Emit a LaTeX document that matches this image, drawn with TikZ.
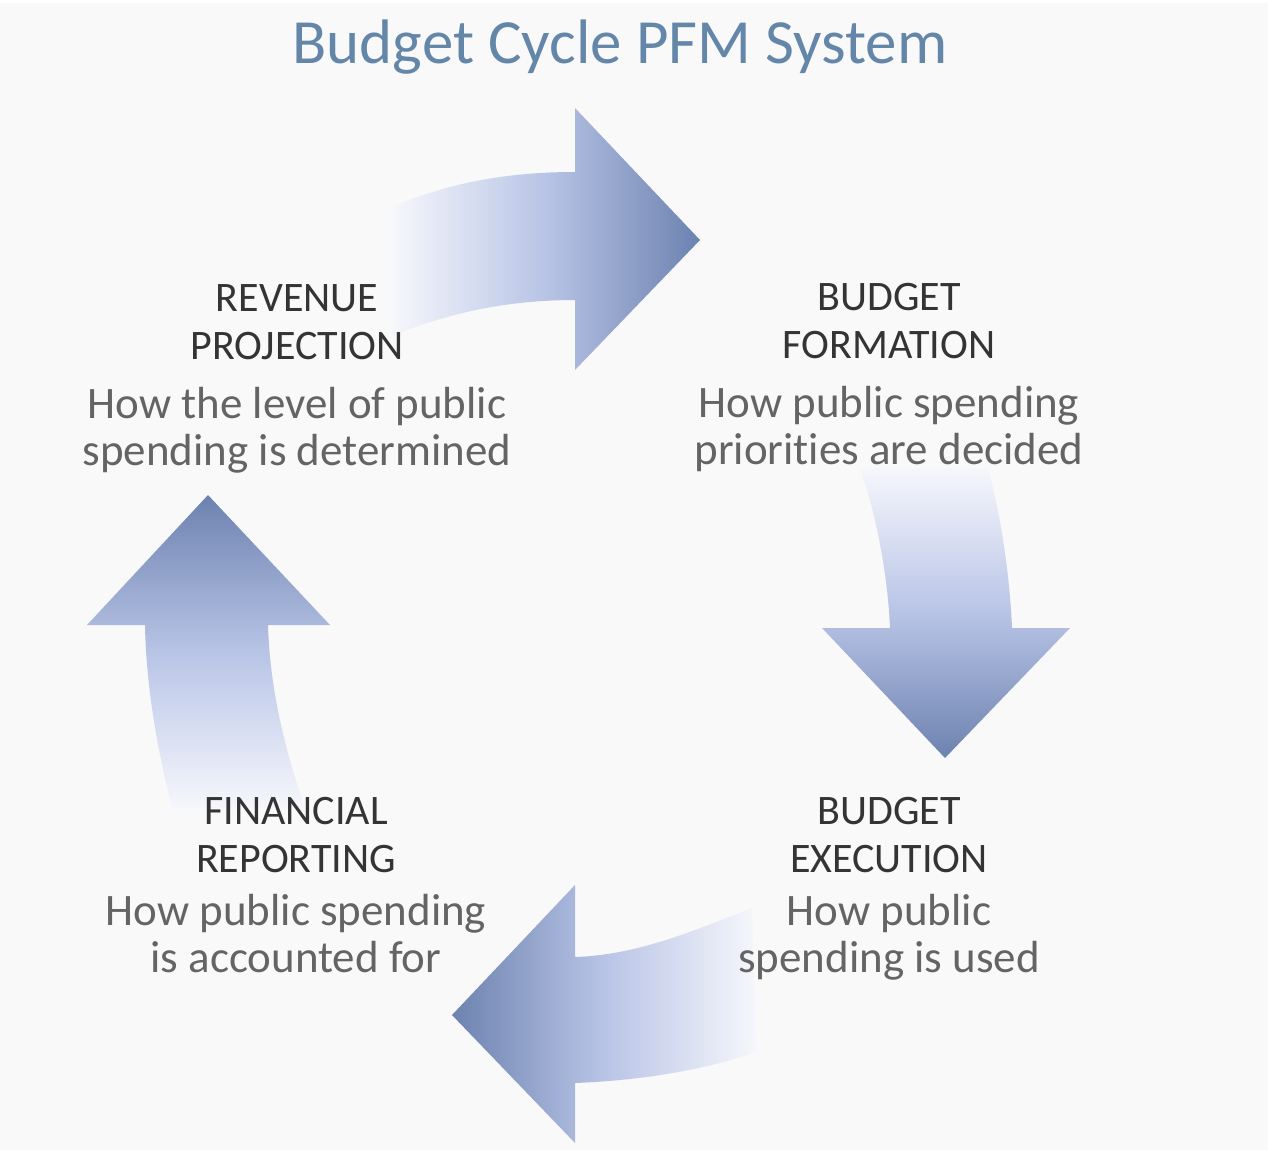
\documentclass[tikz,border=0pt]{standalone}
\usepackage{fontspec}
\setmainfont{Carlito}[Ligatures=NoCommon]
\usetikzlibrary{positioning}

\definecolor{titleblue}{RGB}{100,134,168}
\definecolor{headgray}{RGB}{52,52,52}
\definecolor{descgray}{RGB}{100,100,100}
\definecolor{arrowdark}{RGB}{108,130,175}
\definecolor{arrowmid}{RGB}{184,196,230}
\definecolor{arrowpale}{RGB}{246,247,252}
\definecolor{bggray}{RGB}{249,249,249}

\begin{document}
\begin{tikzpicture}[
            x=0.02cm, y=-0.02cm,
            title text/.style={font=\fontsize{35.8}{40}\selectfont, text=titleblue, inner sep=0pt},
            stage head/.style={font=\fontsize{23.9}{27.3}\selectfont, text=headgray, align=center, inner sep=0pt},
            stage text/.style={font=\fontsize{25.6}{26.8}\selectfont, text=descgray, align=center, inner sep=0pt},
            cycle arrow/.style={draw=none}
        ]

            % --- Background ---
            \fill[white] (0,0) rectangle (1272,1150);
            \fill[bggray] (0,3) rectangle (1268,1150);

            % --- Curved block arrows ---
            \shade[cycle arrow, left color=arrowpale, right color=arrowdark, middle color=arrowmid]
                (392,207) .. controls (450,182) and (510,172) .. (575,172) -- (575,108) -- (700,240)
                -- (575,370) -- (575,300) .. controls (510,300) and (450,312) .. (392,336) -- cycle;
            \shade[cycle arrow, top color=arrowpale, bottom color=arrowdark, middle color=arrowmid]
                (860,468) .. controls (878,520) and (888,580) .. (890,628) -- (822,628) -- (945,758)
                -- (1070,628) -- (1012,628) .. controls (1010,580) and (1002,520) .. (988,468) -- cycle;
            \shade[cycle arrow, right color=arrowpale, left color=arrowdark, middle color=arrowmid]
                (752,908) .. controls (700,928) and (640,955) .. (575,957) -- (575,885) -- (452,1015)
                -- (575,1143) -- (575,1083) .. controls (650,1080) and (710,1068) .. (756,1052) -- cycle;
            \shade[cycle arrow, bottom color=arrowpale, top color=arrowdark, middle color=arrowmid]
                (172,808) .. controls (155,740) and (146,680) .. (145,625) -- (87,625) -- (208,495)
                -- (330,625) -- (268,625) .. controls (270,690) and (285,750) .. (305,808) -- cycle;

            % --- Title ---
            \node[title text, anchor=base] (title) at (620,63) {Budget Cycle PFM System};

            % --- Stages ---
            \node[stage head] (rev) at (297,322) {REVENUE\\PROJECTION};
            \node[stage text] (revtxt) [below=0.54cm of rev] {How the level of public\\spending is determined};

            \node[stage head] (form) at (889,321) {BUDGET\\FORMATION};
            \node[stage text] (formtxt) [below=0.54cm of form] {How public spending\\priorities are decided};

            \node[stage head] (exec) at (889,835) {BUDGET\\EXECUTION};
            \node[stage text] (exectxt) [below=0.42cm of exec] {How public\\spending is used};

            \node[stage head] (rep) at (296,835) {FINANCIAL\\REPORTING};
            \node[stage text] (reptxt) [below=0.42cm of rep] {How public spending\\is accounted for};

        \end{tikzpicture}
\end{document}
